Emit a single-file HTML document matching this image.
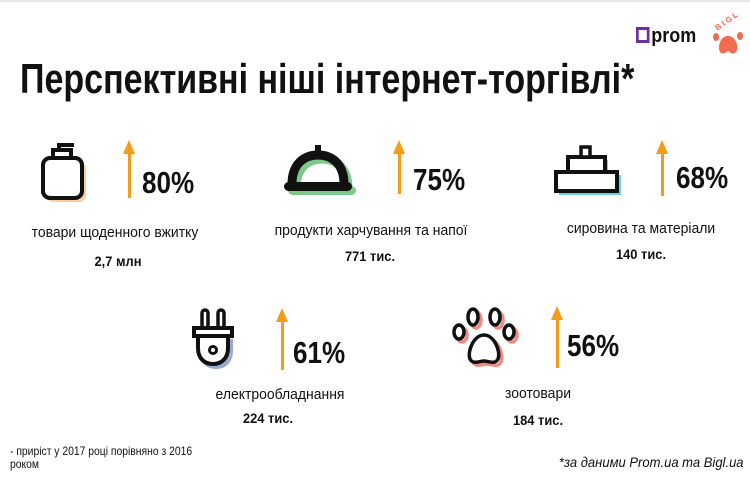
<!DOCTYPE html>
<html><head><meta charset="utf-8"><style>
body{margin:0;width:750px;height:480px;background:#fff;overflow:hidden;position:relative;font-family:"Liberation Sans",sans-serif;color:#111}
.a{position:absolute;white-space:nowrap}
.t{font-weight:bold;font-size:42px;left:20px;top:55px;transform:scaleX(0.81);transform-origin:0 0}
.pct{font-weight:bold;font-size:31px;transform:scaleX(0.84);transform-origin:0 0}
.lbl{font-size:15px;transform:translateX(-50%) scaleX(0.93)}
.val{font-size:14px;font-weight:bold;transform:translateX(-50%) scaleX(0.92)}
.ar{width:3px;background:#f59b1c}
.ah{border-left:6.5px solid transparent;border-right:6.5px solid transparent;border-bottom:14px solid #f59b1c}
</style></head><body>
<div class="a" style="left:0;top:0;width:750px;height:2px;background:#e8e8e8"></div>
<div class="a" style="left:636px;top:25px;font-weight:bold;font-size:20px;transform:scaleX(0.9);transform-origin:0 0"><span style="display:inline-block;width:9px;height:10px;border:3px solid #6b2fa0;vertical-align:-1px;margin-right:2px"></span>prom</div>
<svg class="a" style="left:708px;top:10px" width="40" height="48" viewBox="0 0 40 48">
<text x="6" y="18" font-size="8" fill="#f26b4f" font-weight="bold" font-family="Liberation Sans" transform="rotate(-35 12 14)">B I G L</text>
<ellipse cx="8" cy="27" rx="3" ry="4" fill="#f26b4f"/><ellipse cx="32" cy="26" rx="3" ry="4" fill="#f26b4f"/>
<path d="M20 26 C11 26 9 40 13 43 C17 45 19 41 20 41 C21 41 23 45 27 43 C32 40 29 26 20 26Z" fill="#f26b4f"/></svg>
<div class="a t">Перспективні ніші інтернет-торгівлі*</div>

<svg class="a" style="left:38px;top:142px" width="56" height="60">
<rect x="9" y="20" width="39" height="40" rx="7" fill="#f8cfa0"/>
<rect x="5" y="16" width="39" height="40" rx="7" fill="#fff" stroke="#111" stroke-width="4"/>
<rect x="15" y="8" width="18" height="8" fill="#fff" stroke="#111" stroke-width="4"/>
<path d="M21 8V3H36" stroke="#111" stroke-width="4" fill="none"/></svg>
<div class="a ar" style="left:128px;top:146px;height:52px"></div>
<div class="a ah" style="left:123px;top:140px"></div>
<div class="a pct" style="left:142px;top:165px">80%</div>
<div class="a lbl" style="left:115px;top:224px">товари щоденного вжитку</div>
<div class="a val" style="left:118px;top:253px">2,7 млн</div>

<svg class="a" style="left:280px;top:142px" width="80" height="58">
<path d="M12 42 C12 22 24 13 38 13 C52 13 64 22 64 42" fill="none" stroke="#7dc98a" stroke-width="9" transform="translate(4,4)"/>
<rect x="8" y="44" width="68" height="9" rx="4.5" fill="#7dc98a"/>
<path d="M12 42 C12 22 24 13 38 13 C52 13 64 22 64 42" fill="none" stroke="#111" stroke-width="9"/>
<rect x="4" y="40" width="68" height="9" rx="4.5" fill="#111"/>
<rect x="35" y="3" width="6" height="8" fill="#111"/></svg>
<div class="a ar" style="left:398px;top:146px;height:48px"></div>
<div class="a ah" style="left:393px;top:140px"></div>
<div class="a pct" style="left:413px;top:162px">75%</div>
<div class="a lbl" style="left:371px;top:222px">продукти харчування та напої</div>
<div class="a val" style="left:370px;top:248px">771 тис.</div>

<svg class="a" style="left:553px;top:145px" width="72" height="54">
<rect x="6" y="30" width="62" height="20" fill="#6fd0ea"/>
<rect x="18" y="15" width="37" height="15" fill="#6fd0ea"/>
<rect x="3" y="27" width="61" height="19" fill="#fff" stroke="#111" stroke-width="4"/>
<rect x="15" y="12" width="37" height="15" fill="#fff" stroke="#111" stroke-width="4"/>
<rect x="28" y="2" width="9" height="10" fill="#fff" stroke="#111" stroke-width="3.5"/></svg>
<div class="a ar" style="left:661px;top:146px;height:50px"></div>
<div class="a ah" style="left:656px;top:140px"></div>
<div class="a pct" style="left:676px;top:160px">68%</div>
<div class="a lbl" style="left:641px;top:220px">сировина та матеріали</div>
<div class="a val" style="left:641px;top:246px">140 тис.</div>

<svg class="a" style="left:189px;top:306px" width="52" height="64">
<path d="M9 30V42C9 53 16 58 24 58C32 58 39 53 39 42V30" fill="none" stroke="#9aa9d6" stroke-width="4" transform="translate(3,3)"/>
<path d="M9 30V42C9 53 16 58 24 58C32 58 39 53 39 42V30" fill="#fff" stroke="#111" stroke-width="4"/>
<rect x="5" y="22" width="38" height="8" fill="#fff" stroke="#111" stroke-width="4"/>
<rect x="13" y="4" width="6" height="18" rx="3" fill="#fff" stroke="#111" stroke-width="3.5"/>
<rect x="29" y="4" width="6" height="18" rx="3" fill="#fff" stroke="#111" stroke-width="3.5"/>
<circle cx="24" cy="44" r="3.5" fill="none" stroke="#111" stroke-width="3"/></svg>
<div class="a ar" style="left:281px;top:314px;height:56px"></div>
<div class="a ah" style="left:276px;top:308px"></div>
<div class="a pct" style="left:293px;top:335px">61%</div>
<div class="a lbl" style="left:280px;top:386px">електрообладнання</div>
<div class="a val" style="left:268px;top:410px">224 тис.</div>

<svg class="a" style="left:450px;top:305px" width="74" height="66">
<g fill="none" stroke="#f08a80" stroke-width="3.5" transform="translate(3,3)"><ellipse cx="23" cy="12" rx="5" ry="8"/><ellipse cx="45" cy="12" rx="5" ry="8"/><ellipse cx="9" cy="27" rx="5" ry="7"/><ellipse cx="59" cy="27" rx="5" ry="7"/><path d="M34 30C24 30 17 46 20 54C23 60 30 56 34 56C38 56 45 60 48 54C51 46 44 30 34 30Z"/></g>
<g fill="#fff" stroke="#111" stroke-width="3.5"><ellipse cx="23" cy="12" rx="5" ry="8"/><ellipse cx="45" cy="12" rx="5" ry="8"/><ellipse cx="9" cy="27" rx="5" ry="7"/><ellipse cx="59" cy="27" rx="5" ry="7"/><path d="M34 30C24 30 17 46 20 54C23 60 30 56 34 56C38 56 45 60 48 54C51 46 44 30 34 30Z"/></g></svg>
<div class="a ar" style="left:556px;top:312px;height:56px"></div>
<div class="a ah" style="left:551px;top:306px"></div>
<div class="a pct" style="left:567px;top:328px">56%</div>
<div class="a lbl" style="left:538px;top:385px">зоотовари</div>
<div class="a val" style="left:538px;top:412px">184 тис.</div>

<div class="a" style="left:10px;top:446px;font-size:11.5px;line-height:13px;transform:scaleX(0.9);transform-origin:0 0">- приріст у 2017 році порівняно з 2016<br>роком</div>
<div class="a" style="right:6px;top:454px;font-size:14px;font-style:italic;transform:scaleX(0.93);transform-origin:100% 0">*за даними Prom.ua та Bigl.ua</div>
</body></html>
